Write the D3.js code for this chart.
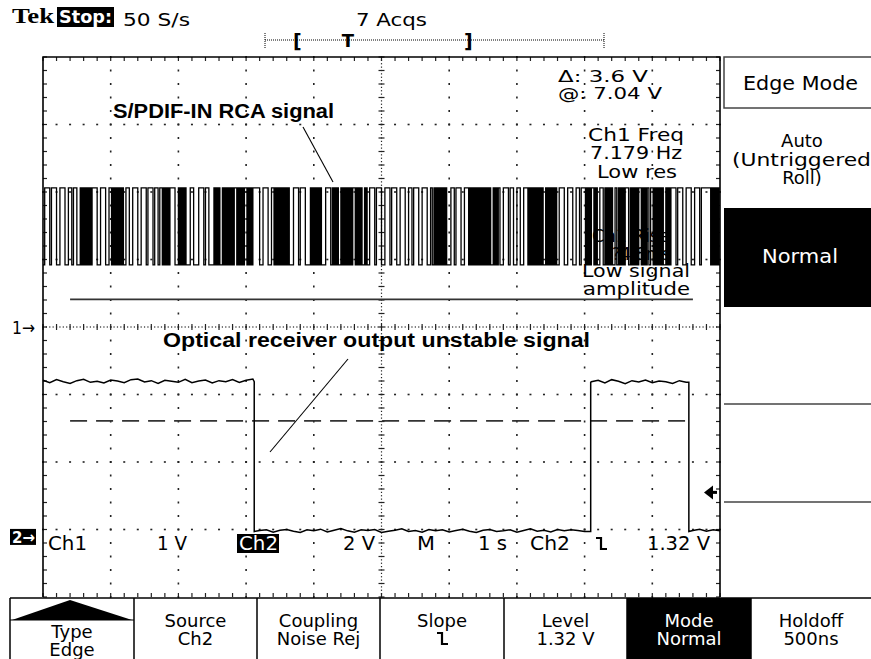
<!DOCTYPE html>
<html>
<head>
<meta charset="utf-8">
<script src="https://cdn.jsdelivr.net/npm/d3@7/dist/d3.min.js"></script>
<style>
body { margin: 0; background: #fff; }
svg { display: block; }
</style>
</head>
<body>
<svg id="scope"></svg>
<script>
// Ch1 (S/PDIF) samples, one string per horizontal division
// 0 = low, 1 = high, x = burst (high/low inside one sample)
var ch1Bits = [
  "0111011100111001101100xxxxxxx11100111001",
  "xxxxxxxx0110011100111011101101xxxxx11100",
  "xxxxx0011000111011000xxxx0xxxxxxx1xxxxx1",
  "xxxx111100111001xxxxxxxxxx001110111000xx",
  "xxxxx001110xxxx0xxxxxxx1xxxxx0xx01110111",
  "0011101110011100110111001110010xxxxxxxx0",
  "01101110011xxxxxxxxxxxxxx0xxx10011101100",
  "110011xxxxxxxxxx0xxxxxxx0111001110011011",
  "xxxx1xxx0110xxxxx010xxxx110xxxxx1xxxx101",
  "xxxxxxx0xxx11101110011100111011111xxxxxx"
];
var ch1Volts = { "0": 0.92, "1": 2.06 };   // 1 V/div
var ch2Times = [0, 3.12, 8.09, 9.54, 10];
var ch2Volts = [4.6, 0.16, 4.58, 0.16, 0.16]; // 2 V/div
// Ch2 plateau ripple (V), one value every 0.1 div
var ch2Noise = [
  0.04, -0.03, 0.06, 0.00, -0.05, 0.03, 0.07, -0.02, 0.01, -0.04, 0.05, 0.02, -0.03, 0.06, 0.08, -0.01,
  0.03, -0.05, 0.04, 0.01, -0.02, 0.07, -0.03, 0.02, 0.05, -0.04, 0.03, 0.00, 0.06, -0.02, 0.04, 0.08,
  0.03, 0.05, -0.02, 0.04, 0.06, 0.01, -0.03, 0.05, 0.02, 0.07, -0.01, 0.04, 0.09, 0.02, -0.02, 0.05,
  0.03, 0.06, -0.03, 0.01, 0.04, 0.08, 0.00, 0.03, -0.02, 0.06, 0.02, 0.05, -0.01, 0.03, 0.07, 0.01,
  -0.03, 0.04, 0.06, 0.00, 0.02, 0.05, -0.02, 0.03, 0.08, 0.01, 0.04, -0.01, 0.06, 0.02, 0.05, 0.03, 0.00,
  0.02, 0.06, -0.02, 0.08, 0.03, -0.04, 0.05, 0.01, 0.07, -0.01, 0.04, 0.02, -0.03, 0.05, 0.00,
  0.03, 0.07, 0.01, 0.05, 0.02
];
var ch1Pos = 0, ch2Pos = -3.11;       // ground markers, in divisions
var cursorVolts = [7.04, 3.44];       // on Ch2
var trigLevel = 1.32;

var headerText = ["50 S/s", "7 Acqs"];
var cursorText = ["\u0394: 3.6 V", "@: 7.04 V"];
var measText = ["Ch1 Freq", "7.179 Hz", "Low res", "Ch1 Rise", "?4.8ms", "Low signal", "amplitude"];
var sideMenu = ["Edge Mode", "Auto", "(Untriggered", "Roll)", "Normal"];
var bottomMenu = [["Type", "Edge"], ["Source", "Ch2"], ["Coupling", "Noise Rej"], ["Slope", ""],
                  ["Level", "1.32 V"], ["Mode", "Normal"], ["Holdoff", "500ns"]];
var readout = ["Ch1", "1 V", "Ch2", "2 V", "M", "1 s", "Ch2", "1.32 V"];
var notes = ["S/PDIF-IN RCA signal", "Optical receiver output unstable signal"];

var W = 871, H = 659;
var svg = d3.select('#scope').attr('width', W).attr('height', H);
var scopeFont = "'DejaVu Sans', Verdana, sans-serif";

var x = d3.scaleLinear().domain([0, 10]).range([43, 720]);
var y = d3.scaleLinear().domain([-4, 4]).range([597, 57]);

function txt(px, py, s, o) {
  o = o || {};
  var t = svg.append('text')
    .attr('x', px).attr('y', py)
    .attr('font-family', o.family || scopeFont)
    .attr('font-size', o.size || 17)
    .attr('font-weight', o.weight || 'normal')
    .attr('fill', o.fill || '#000')
    .attr('text-anchor', o.anchor || 'start')
    .text(s);
  if (o.len) t.attr('textLength', o.len).attr('lengthAdjust', 'spacingAndGlyphs');
  return t;
}

// graticule dots
var g = svg.append('g').attr('fill', '#222');
var minor = d3.range(0, 10.001, 0.2);
var minorV = d3.range(-4, 4.001, 0.2);
d3.range(1, 10).filter(function (k) { return k != 5; }).forEach(function (k) {
  minorV.forEach(function (v) {
    g.append('rect').attr('x', x(k) - 0.8).attr('y', y(v) - 1).attr('width', 1.6).attr('height', 2);
  });
});
d3.range(-3, 4).filter(function (k) { return k != 0; }).forEach(function (k) {
  minor.forEach(function (t) {
    g.append('rect').attr('x', x(t) - 1).attr('y', y(k) - 0.8).attr('width', 2).attr('height', 1.6);
  });
});
// centre lines: dense dots and crosshair ticks
d3.range(0, 10.001, 0.05).forEach(function (t) {
  g.append('rect').attr('x', x(t) - 0.6).attr('y', y(0) - 0.6).attr('width', 1.2).attr('height', 1.2);
});
d3.range(-4, 4.001, 0.05).forEach(function (v) {
  g.append('rect').attr('x', x(5) - 0.6).attr('y', y(v) - 0.6).attr('width', 1.2).attr('height', 1.2);
});
var ticks = svg.append('g').attr('stroke', '#222').attr('stroke-width', 1.2);
minor.forEach(function (t) {
  ticks.append('line').attr('x1', x(t)).attr('x2', x(t)).attr('y1', y(0) - 3).attr('y2', y(0) + 3);
  ticks.append('line').attr('x1', x(t)).attr('x2', x(t)).attr('y1', y(4)).attr('y2', y(4) + 4);
  ticks.append('line').attr('x1', x(t)).attr('x2', x(t)).attr('y1', y(-4)).attr('y2', y(-4) - 4);
});
minorV.forEach(function (v) {
  ticks.append('line').attr('x1', x(5) - 3).attr('x2', x(5) + 3).attr('y1', y(v)).attr('y2', y(v));
  ticks.append('line').attr('x1', x(0)).attr('x2', x(0) + 4).attr('y1', y(v)).attr('y2', y(v));
  ticks.append('line').attr('x1', x(10)).attr('x2', x(10) - 4).attr('y1', y(v)).attr('y2', y(v));
});

// border (left, top, right)
svg.append('path')
  .attr('d', 'M' + x(0) + ',' + y(-4) + 'V' + y(4) + 'H' + x(10) + 'V' + y(-4))
  .attr('fill', 'none').attr('stroke', '#000').attr('stroke-width', 1.6);

// cursors
svg.append('line').attr('x1', x(0.4)).attr('x2', x(9.6))
  .attr('y1', y(ch2Pos + cursorVolts[0] / 2)).attr('y2', y(ch2Pos + cursorVolts[0] / 2))
  .attr('stroke', '#333').attr('stroke-width', 1.6);
svg.append('line').attr('x1', x(0.4)).attr('x2', x(9.6))
  .attr('y1', y(ch2Pos + cursorVolts[1] / 2)).attr('y2', y(ch2Pos + cursorVolts[1] / 2))
  .attr('stroke', '#333').attr('stroke-width', 1.6).attr('stroke-dasharray', '17,9');

// measurement text sits under the traces, as on the scope
txt(558, 82, cursorText[0], { size: 16, len: 90 });
txt(558, 99, cursorText[1], { size: 16, len: 104 });
var measY = [141, 159, 178, 242, 260, 277, 295];
var measX = [[588, 96], [590, 92], [597, 80], [592, 78], [612, 58], [582, 108], [583, 107]];
measText.forEach(function (s, i) {
  txt(measX[i][0], measY[i], s, { size: 17, len: measX[i][1] });
});

// Ch1 trace
var ch1Pts = [];
ch1Bits.forEach(function (s, d) {
  var step = 1 / s.length;
  for (var i = 0; i < s.length; i++) {
    var t = d + i * step;
    if (s[i] == 'x') {
      ch1Pts.push([t, ch1Volts["1"]], [t + step / 2, ch1Volts["0"]]);
    } else {
      ch1Pts.push([t, ch1Volts[s[i]]]);
    }
  }
});
ch1Pts.push([10, ch1Pts[ch1Pts.length - 1][1]]);
var line1 = d3.line().curve(d3.curveStepAfter)
  .x(function (d) { return x(d[0]); })
  .y(function (d) { return y(ch1Pos + d[1] / 1); });
svg.append('path').attr('d', line1(ch1Pts))
  .attr('fill', 'none').attr('stroke', '#000').attr('stroke-width', 1.3);

// Ch2 trace: step levels plus ripple, with vertical edges
function ch2Level(t) {
  var k = d3.bisectRight(ch2Times, t) - 1;
  return ch2Volts[Math.max(0, Math.min(k, ch2Volts.length - 1))];
}
var ch2Pts = ch2Noise.map(function (n, i) { return [i / 10, ch2Level(i / 10) + n]; });
ch2Times.slice(1, -1).forEach(function (T, k) {
  ch2Pts.push([T - 1e-6, ch2Volts[k]], [T, ch2Volts[k + 1]]);
});
ch2Pts.sort(function (a, b) { return a[0] - b[0]; });
var line2 = d3.line()
  .x(function (d) { return x(d[0]); })
  .y(function (d) { return y(ch2Pos + d[1] / 2); });
svg.append('path').attr('d', line2(ch2Pts))
  .attr('fill', 'none').attr('stroke', '#000').attr('stroke-width', 1.5);

// trigger level arrow
var ty = y(ch2Pos + trigLevel / 2);
svg.append('path').attr('d', 'M704,' + ty + 'l9,-7v14z').attr('fill', '#000');
svg.append('line').attr('x1', 710).attr('x2', 717).attr('y1', ty).attr('y2', ty)
  .attr('stroke', '#000').attr('stroke-width', 3);

// ground markers
txt(12, y(ch1Pos) + 7, '1\u2192', { size: 18, len: 23 });
svg.append('rect').attr('x', 10).attr('y', y(ch2Pos) - 8).attr('width', 26).attr('height', 16).attr('fill', '#000');
txt(12, y(ch2Pos) + 6, '2\u2192', { size: 16, fill: '#fff', weight: 'bold', len: 23 });

// annotations
txt(113, 118, notes[0], { family: "'Liberation Sans', Arial, sans-serif", weight: 'bold', size: 20, len: 221 });
txt(163, 347, notes[1], { family: "'Liberation Sans', Arial, sans-serif", weight: 'bold', size: 20, len: 427 });
svg.append('line').attr('x1', 303).attr('y1', 127).attr('x2', 333).attr('y2', 182)
  .attr('stroke', '#000').attr('stroke-width', 1.1);
svg.append('line').attr('x1', 348).attr('y1', 359).attr('x2', 270).attr('y2', 452)
  .attr('stroke', '#000').attr('stroke-width', 1.1);

// header
txt(12, 23, 'Tek', { family: "'Liberation Serif', serif", weight: 'bold', size: 22, len: 42 });
svg.append('rect').attr('x', 57).attr('y', 7).attr('width', 57).attr('height', 20).attr('fill', '#000');
txt(59, 23, 'Stop:', { weight: 'bold', fill: '#fff', size: 17, len: 53 });
txt(123, 26, headerText[0], { size: 18, len: 67 });
txt(356, 26, headerText[1], { size: 18, len: 71 });
// record bar
svg.append('line').attr('x1', 265).attr('x2', 604).attr('y1', 40).attr('y2', 40)
  .attr('stroke', '#000').attr('stroke-width', 1).attr('stroke-dasharray', '1,1');
[265, 604].forEach(function (px) {
  svg.append('line').attr('x1', px).attr('x2', px).attr('y1', 33).attr('y2', 48)
    .attr('stroke', '#000').attr('stroke-width', 1).attr('stroke-dasharray', '1,1');
});
txt(293, 48, '[', { weight: 'bold', size: 19 });
txt(348, 47, 'T', { size: 18, anchor: 'middle', weight: 'bold' });
txt(464, 48, ']', { weight: 'bold', size: 19 });

// right side menu
svg.append('rect').attr('x', 724).attr('y', 57).attr('width', 150).attr('height', 51)
  .attr('fill', 'none').attr('stroke', '#444').attr('stroke-width', 1.5);
txt(743, 90, sideMenu[0], { size: 19, len: 115 });
txt(802, 147, sideMenu[1], { size: 18, anchor: 'middle' });
txt(732, 166, sideMenu[2], { size: 18, len: 139 });
txt(802, 184, sideMenu[3], { size: 18, anchor: 'middle' });
svg.append('rect').attr('x', 724).attr('y', 208).attr('width', 150).attr('height', 99).attr('fill', '#000');
txt(762, 263, sideMenu[4], { size: 19, fill: '#fff', len: 76 });
[404, 502].forEach(function (py) {
  svg.append('line').attr('x1', 724).attr('x2', 871).attr('y1', py).attr('y2', py)
    .attr('stroke', '#444').attr('stroke-width', 1.5);
});

// bottom readout line
var roX = [48, 157, 239, 343, 417, 478, 530, 647];
var roW = [39, 30, 39, 32, 18, 29, 40, 63];
svg.append('rect').attr('x', 237).attr('y', 534).attr('width', 42).attr('height', 19).attr('fill', '#000');
readout.forEach(function (s, i) {
  txt(roX[i], 550, s, { size: 19, len: roW[i], fill: i == 2 ? '#fff' : '#000' });
});
function fallSym(px, py, sc) {
  svg.append('path')
    .attr('d', 'M' + px + ',' + py + 'h' + 5 * sc + 'v' + 11 * sc + 'h' + 6 * sc)
    .attr('fill', 'none').attr('stroke', '#000').attr('stroke-width', 2.2);
}
fallSym(596, 538, 1);

// bottom menu
var menuEdges = [10, 134, 257, 380, 504, 627, 751, 871];
svg.append('line').attr('x1', 10).attr('x2', 871).attr('y1', 598).attr('y2', 598)
  .attr('stroke', '#000').attr('stroke-width', 1.5);
svg.append('rect').attr('x', 627).attr('y', 598).attr('width', 124).attr('height', 61).attr('fill', '#000');
menuEdges.slice(0, 7).forEach(function (px) {
  svg.append('line').attr('x1', px).attr('x2', px).attr('y1', 598).attr('y2', 659)
    .attr('stroke', '#000').attr('stroke-width', 1.5);
});
// "Type" tab triangle
svg.append('path').attr('d', 'M12,620L70,600L132,620Z').attr('fill', '#000');
svg.append('line').attr('x1', 10).attr('x2', 134).attr('y1', 620).attr('y2', 620)
  .attr('stroke', '#000').attr('stroke-width', 1.2);
bottomMenu.forEach(function (m, i) {
  var cx = (menuEdges[i] + menuEdges[i + 1]) / 2;
  var by = i == 0 ? 638 : 627;
  var col = i == 5 ? '#fff' : '#000';
  txt(cx, by, m[0], { size: 18, anchor: 'middle', fill: col });
  if (m[1]) txt(cx, by + 18, m[1], { size: 18, anchor: 'middle', fill: col });
});
fallSym(437, 633, 1);
</script>
</body>
</html>
